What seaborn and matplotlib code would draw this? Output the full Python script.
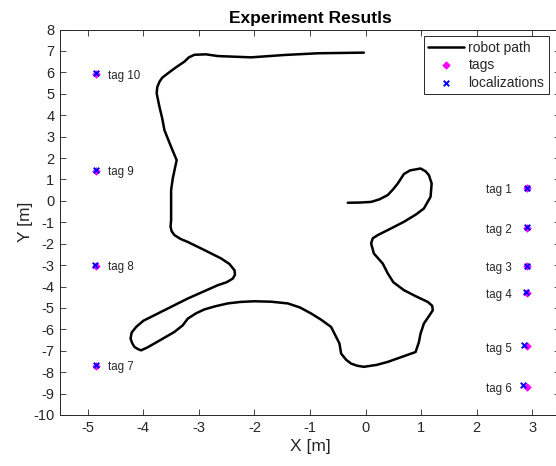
import matplotlib
matplotlib.use('Agg')
import matplotlib.pyplot as plt
import seaborn as sns
import pandas as pd

# robot path
path_x = [-0.03, -0.86, -1.46, -2.06, -2.66, -2.87, -3.08, -3.18, -3.26, -3.42, -3.56, -3.66,
          -3.71, -3.75, -3.76, -3.71, -3.66, -3.62, -3.50, -3.40, -3.47, -3.50, -3.50, -3.51,
          -3.49, -3.44, -3.33, -3.20, -2.90, -2.60, -2.45, -2.36, -2.35, -2.39, -2.50, -2.66,
          -3.20, -3.80, -4.00, -4.13, -4.21, -4.23, -4.20, -4.16, -4.10, -4.04, -3.93, -3.80,
          -3.44, -3.29, -3.20, -3.05, -2.90, -2.70, -2.48, -2.25, -2.00, -1.70, -1.40, -1.18,
          -0.98, -0.80, -0.62, -0.47, -0.44, -0.35, -0.26, -0.15, -0.03, 0.20, 0.40, 0.90,
          0.96, 0.99, 1.05, 1.15, 1.21, 1.20, 1.12, 0.90, 0.69, 0.50, 0.40, 0.31,
          0.15, 0.10, 0.13, 0.22, 0.45, 0.69, 0.90, 1.05, 1.17, 1.19, 1.14, 1.08,
          0.99, 0.80, 0.69, 0.58, 0.50, 0.40, 0.25, 0.10, -0.10, -0.32]
path_y = [6.92, 6.89, 6.81, 6.70, 6.76, 6.84, 6.82, 6.70, 6.50, 6.22, 5.95, 5.75,
          5.56, 5.30, 5.02, 4.39, 3.85, 3.30, 2.52, 1.90, 1.05, 0.50, -0.90, -1.21,
          -1.42, -1.60, -1.78, -1.92, -2.30, -2.69, -2.95, -3.24, -3.45, -3.63, -3.80, -3.94,
          -4.56, -5.34, -5.60, -5.89, -6.15, -6.43, -6.65, -6.82, -6.92, -6.98, -6.85, -6.66,
          -6.12, -5.81, -5.50, -5.25, -5.07, -4.92, -4.79, -4.72, -4.69, -4.71, -4.79, -4.98,
          -5.26, -5.55, -5.89, -6.66, -7.13, -7.42, -7.60, -7.70, -7.75, -7.66, -7.52, -7.06,
          -6.60, -6.20, -5.73, -5.35, -5.11, -4.90, -4.72, -4.45, -4.17, -3.80, -3.39, -2.93,
          -2.46, -1.99, -1.75, -1.60, -1.30, -0.98, -0.65, -0.36, 0.19, 0.81, 1.20, 1.38,
          1.51, 1.42, 1.25, 0.81, 0.55, 0.27, 0.07, -0.05, -0.08, -0.09]

# tags and localizations
tag_names = ['tag 1', 'tag 2', 'tag 3', 'tag 4', 'tag 5', 'tag 6', 'tag 7', 'tag 8', 'tag 9', 'tag 10']
tag_x = [2.90, 2.90, 2.90, 2.90, 2.90, 2.90, -4.85, -4.85, -4.85, -4.85]
tag_y = [0.60, -1.25, -3.05, -4.30, -6.80, -8.70, -7.70, -3.05, 1.40, 5.90]
loc_x = [2.90, 2.90, 2.90, 2.88, 2.86, 2.84, -4.85, -4.87, -4.85, -4.85]
loc_y = [0.60, -1.20, -3.05, -4.25, -6.72, -8.62, -7.65, -3.00, 1.45, 5.95]

path_df = pd.DataFrame({'x': path_x, 'y': path_y})
tags_df = pd.DataFrame({'x': tag_x, 'y': tag_y, 'name': tag_names})
loc_df = pd.DataFrame({'x': loc_x, 'y': loc_y})

sns.set_style('white')
plt.rcParams['font.family'] = ['Liberation Sans', 'DejaVu Sans']
plt.rcParams['axes.unicode_minus'] = False
ink = '#262626'

fig = plt.figure(figsize=(5.56, 4.66), dpi=100)
ax = fig.add_axes([60 / 556, 51 / 466, 500 / 556, 385.5 / 466])

sns.lineplot(data=path_df, x='x', y='y', sort=False, estimator=None, color='black',
             linewidth=1.8, label='robot path', ax=ax,
             solid_joinstyle='round', solid_capstyle='round')
sns.scatterplot(data=tags_df, x='x', y='y', marker='D', color='magenta', s=14,
                edgecolor='magenta', linewidth=0.6, label='tags', ax=ax, zorder=3)
sns.scatterplot(data=loc_df, x='x', y='y', marker='x', color='blue', s=16,
                linewidth=1.4, label='localizations', ax=ax, zorder=4)

# tag labels: right-side tags labelled on the left, left-side tags on the right
for name, tx, ty in zip(tag_names, tag_x, tag_y):
    if tx > 0:
        ax.text(tx - 0.26, ty - 0.1, name, ha='right', va='center', fontsize=8.3, color=ink)
    else:
        ax.text(tx + 0.21, ty - 0.05, name, ha='left', va='center', fontsize=8.3, color=ink)

ax.set_xlim(-5.5, 3.5)
ax.set_ylim(-10, 8)
ax.set_xticks(range(-5, 4))
ax.set_yticks(range(-10, 9))
ax.tick_params(direction='in', length=4, width=0.6, colors=ink, labelsize=10.5,
               top=True, right=True, bottom=True, left=True, pad=4)
for sp in ax.spines.values():
    sp.set_visible(True)
    sp.set_color(ink)
    sp.set_linewidth(0.7)

ax.set_xlabel('X [m]', fontsize=12.5, color=ink, labelpad=3)
ax.set_ylabel('Y [m]', fontsize=12.5, color=ink, labelpad=0)
ax.set_title('Experiment Resutls', fontsize=12.5, fontweight='bold', color='black', pad=5)

leg = ax.legend(loc='upper right', bbox_to_anchor=(0.977, 0.982), fontsize=10, frameon=True,
                fancybox=False, edgecolor=ink, framealpha=1, handlelength=2.6,
                handletextpad=0.3, borderpad=0.3, labelspacing=0.25, borderaxespad=0)
leg.get_frame().set_linewidth(0.7)

fig.savefig('out.png', dpi=100)
